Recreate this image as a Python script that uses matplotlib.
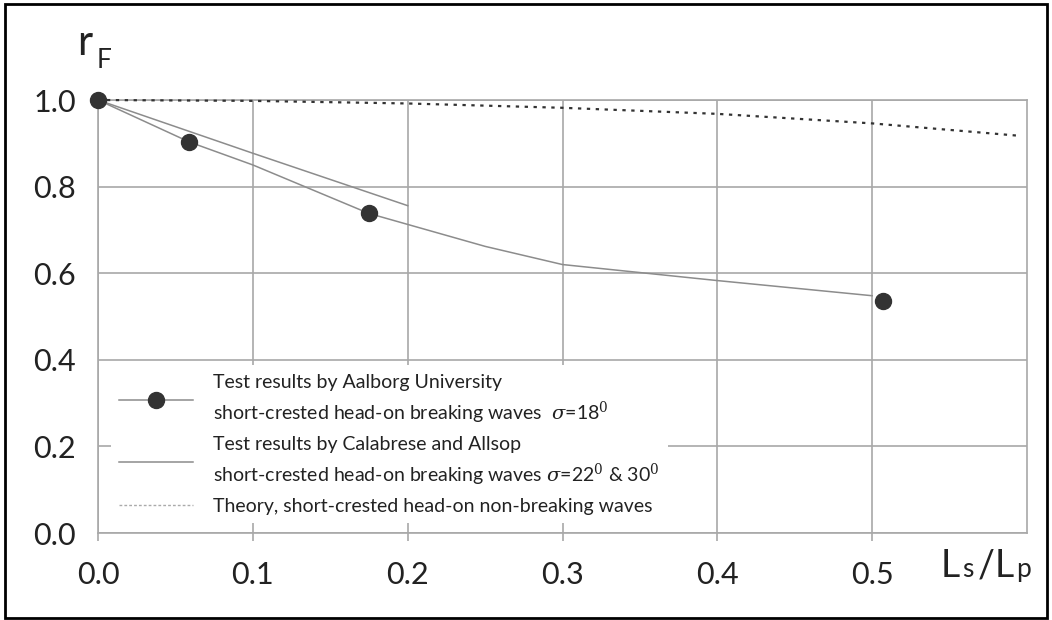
import matplotlib
matplotlib.use("Agg")
import matplotlib.pyplot as plt
from matplotlib.patches import Rectangle

# values
aal_x = [0.0, 0.059, 0.175, 0.507]
aal_y = [1.0, 0.903, 0.738, 0.535]
aal_fit_x = [0.0, 0.059, 0.1, 0.175, 0.25, 0.3, 0.4, 0.5]
aal_fit_y = [1.0, 0.903, 0.850, 0.738, 0.662, 0.620, 0.583, 0.548]
cal_x = [0.0, 0.1, 0.2]
cal_y = [1.0, 0.877, 0.756]
theo_x = [0.0, 0.1, 0.2, 0.3, 0.4, 0.5, 0.593]
theo_y = [1.0, 0.998, 0.992, 0.982, 0.968, 0.946, 0.918]

xticks = [0.0, 0.1, 0.2, 0.3, 0.4, 0.5]
yticks = [0.0, 0.2, 0.4, 0.6, 0.8, 1.0]

lab_aal = "Test results by Aalborg University\nshort-crested head-on breaking waves  $\\sigma$=18$^0$"
lab_cal = "Test results by Calabrese and Allsop\nshort-crested head-on breaking waves $\\sigma$=22$^0$ & 30$^0$"
lab_theo = "Theory, short-crested head-on non-breaking waves"

plt.rcParams['font.family'] = ['Lato', 'DejaVu Sans']
plt.rcParams['mathtext.fontset'] = 'dejavuserif'

fig = plt.figure(figsize=(10.52, 6.2), dpi=100)
ax = fig.add_axes([0.0932, 0.1403, 0.883, 0.6984])

grid_c = "#a8a8a8"
line_c = "#8c8c8c"

ax.plot(aal_fit_x, aal_fit_y, color=line_c, lw=1.1, zorder=3)
ax.plot(aal_x, aal_y, 'o', color="#333333", ms=11.5, zorder=4, clip_on=False)
ax.plot(cal_x, cal_y, color=line_c, lw=1.1, zorder=3)
ax.plot(theo_x, theo_y, color="#333333", lw=1.6, ls=(0, (1.5, 2.5)), zorder=3,
        clip_on=False)

# legend proxies
h1, = ax.plot([], [], color=line_c, lw=1.1, marker='o', ms=11.5,
              mfc="#333333", mec="#333333")
h2, = ax.plot([], [], color=line_c, lw=1.1)
h3, = ax.plot([], [], color="#aaaaaa", lw=1.0, ls=(0, (2, 1.5)))
leg = ax.legend([h1, h2, h3], [lab_aal, lab_cal, lab_theo],
                loc="lower left", bbox_to_anchor=(0.003, 0.0),
                fontsize=14, handlelength=3.8, handletextpad=1.0,
                labelspacing=0.5, borderpad=0.45,
                frameon=True, fancybox=False, framealpha=1,
                facecolor="white", edgecolor="none")
for t in leg.get_texts():
    t.set_color("#222222")
    t.set_linespacing(1.45)
leg.set_zorder(5)

ax.set_xlim(0, 0.6)
ax.set_ylim(0, 1.0)
ax.set_xticks(xticks)
ax.set_yticks(yticks)
ax.set_xticklabels([f"{v:.1f}" for v in xticks])
ax.set_yticklabels([f"{v:.1f}" for v in yticks])
ax.grid(True, color=grid_c, lw=1.2)
ax.set_axisbelow(True)
for s in ax.spines.values():
    s.set_color(grid_c)
    s.set_linewidth(1.2)
ax.tick_params(axis='x', length=6, width=1.2, color=grid_c, pad=14,
               labelsize=22, labelcolor="#222222")
ax.tick_params(axis='y', length=0, pad=16, labelsize=22, labelcolor="#222222")

# axis titles
ax.text(-0.014, 1.105, "r", transform=ax.transAxes, fontsize=30,
        color="#222222", ha="center", va="baseline")
ax.text(0.006, 1.075, "F", transform=ax.transAxes, fontsize=19,
        color="#222222", ha="center", va="baseline")
fig.text(0.894, 0.069, "L", fontsize=27, color="#222222", va="baseline")
fig.text(0.915, 0.069, "s", fontsize=19, color="#222222", va="baseline")
fig.text(0.929, 0.069, "/", fontsize=27, color="#222222", va="baseline")
fig.text(0.945, 0.069, "L", fontsize=27, color="#222222", va="baseline")
fig.text(0.966, 0.069, "p", fontsize=19, color="#222222", va="baseline")

# outer frame
fig.patches.append(Rectangle((0.005, 0.004), 0.99, 0.99, transform=fig.transFigure,
                             fill=False, edgecolor="black", lw=2))

fig.savefig("out.png", dpi=100)
